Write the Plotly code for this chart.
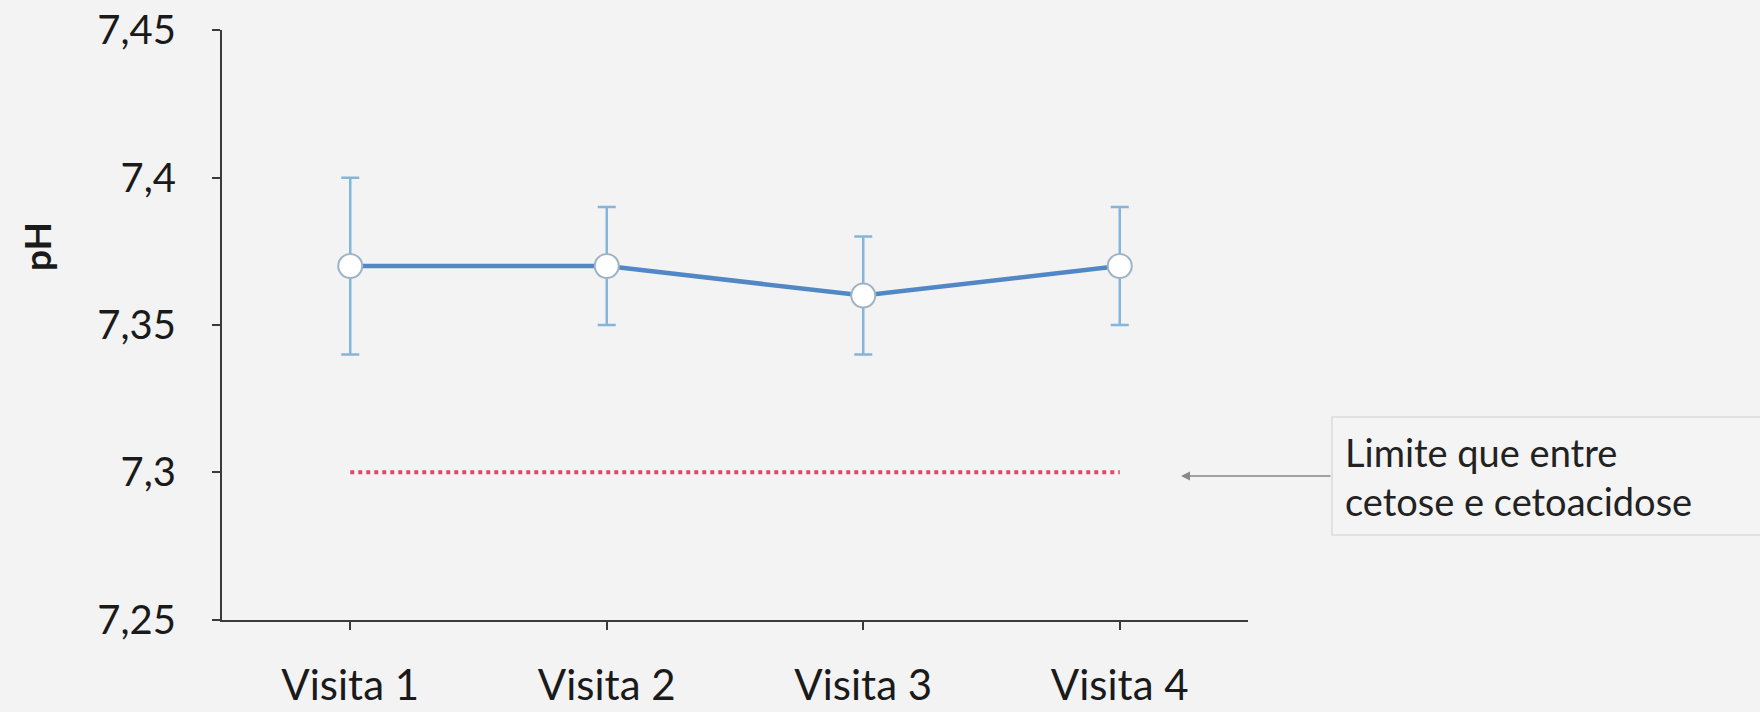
import plotly.graph_objects as go

categories = ["Visita 1", "Visita 2", "Visita 3", "Visita 4"]
ph_mean = [7.37, 7.37, 7.36, 7.37]
ph_err = [0.03, 0.02, 0.02, 0.02]
threshold = 7.3
y_ticks = [7.25, 7.3, 7.35, 7.4, 7.45]
y_ticktext = ["7,25", "7,3", "7,35", "7,4", "7,45"]
note_text = "Limite que entre<br>cetose e cetoacidose"

FONT = "Lato"
W, H = 1760, 712
L, R, T, B = 222, 512, 30, 92
PW, PH = W - L - R, H - T - B

fig = go.Figure()

fig.add_trace(go.Scatter(
    x=categories, y=ph_mean, mode="lines+markers",
    line=dict(color="#5287c6", width=4.5),
    marker=dict(size=24, color="white", line=dict(color="#9fb3c6", width=2)),
    error_y=dict(type="data", array=ph_err, visible=True,
                 color="#85b5d8", thickness=2.5, width=9),
    showlegend=False,
))

fig.add_trace(go.Scatter(
    x=[categories[0], categories[-1]], y=[threshold, threshold],
    mode="lines", line=dict(color="#e5466d", width=4, dash="dot"),
    hoverinfo="skip", showlegend=False,
))


def fx(p):
    return (p - L) / PW


def fy(p):
    return (H - B - p) / PH


fig.update_layout(
    width=W, height=H,
    margin=dict(l=L, r=R, t=T, b=B, autoexpand=False),
    paper_bgcolor="#f3f3f3", plot_bgcolor="#f3f3f3",
    font=dict(family=FONT, color="#222222"),
    xaxis=dict(
        type="category", categoryorder="array", categoryarray=categories,
        range=[-0.5, 3.5], automargin=False,
        showgrid=False, zeroline=False,
        showline=True, linecolor="#3a3a3a", linewidth=2,
        ticks="outside", ticklen=8, tickcolor="#3a3a3a", tickwidth=1.5,
        tickfont=dict(size=42, family=FONT, color="#1a1a1a"),
        ticklabelstandoff=20, ticklabeloverflow="allow",
    ),
    yaxis=dict(
        range=[7.2499, 7.4501], tickvals=y_ticks, ticktext=y_ticktext,
        automargin=False,
        showgrid=False, zeroline=False,
        showline=True, linecolor="#3a3a3a", linewidth=2,
        ticks="outside", ticklen=8, tickcolor="#3a3a3a", tickwidth=1.5,
        tickfont=dict(size=40, family=FONT, color="#1a1a1a"),
        ticklabelstandoff=28, ticklabeloverflow="allow",
    ),
    shapes=[
        dict(type="rect", xref="paper", yref="paper",
             x0=fx(1332), x1=fx(1775), y0=fy(535), y1=fy(417),
             line=dict(color="#dcdcdc", width=1.5), fillcolor="#f4f4f4", layer="below"),
    ],
    annotations=[
        dict(text="<b>pH</b>", xref="paper", yref="paper",
             x=fx(37), y=fy(247), textangle=-90, showarrow=False,
             font=dict(size=37, family=FONT, color="#1a1a1a"),
             xanchor="center", yanchor="middle"),
        dict(text=note_text, xref="paper", yref="paper",
             x=fx(1343), y=fy(476), xanchor="left", yanchor="middle",
             align="left", showarrow=False,
             font=dict(size=38, family=FONT, color="#222222")),
        dict(text="", xref="paper", yref="paper",
             x=fx(1181), y=fy(476), ax=1332 - 1181, ay=0,
             showarrow=True, arrowhead=2, arrowsize=1.2, arrowwidth=1.5,
             arrowcolor="#888888"),
    ],
)

fig.write_html("out.html")
